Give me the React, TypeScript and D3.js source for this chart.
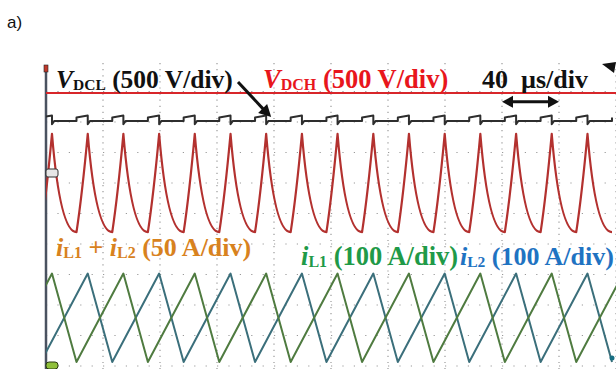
import * as d3 from 'd3'
import React from 'react'

// time base: 40 µs/div, 10 div on screen
const timeGrid = [40, 80, 120, 160, 200, 240, 280, 320, 360, 400]
const divGrid = [0, 1, 2, 3, 4, 5, 6, 7, 8, 9]

// iL1 + iL2 ripple: peak / valley instants (µs)
const sumPeakT = [4.2, 29.3, 54.3, 79.4, 104.4, 129.5, 154.5, 179.6, 204.6, 229.7, 254.7, 279.8, 304.8, 329.9, 354.9, 380.0]
const sumValleyT = [-3.7, 21.4, 46.5, 71.5, 96.6, 121.6, 146.7, 171.7, 196.8, 221.8, 246.9, 271.9, 297.0, 322.0, 347.1, 372.1, 397.2]
const sumLevels = { peak: 7.61, valley: 4.39 } // div

// phase currents (div)
const iL1PeakT = [4.2, 54.3, 104.4, 154.5, 204.6, 254.7, 304.8, 354.9, 405.0]
const iL1ValleyT = [-28.7, 21.4, 71.5, 121.6, 171.7, 221.8, 271.9, 322.0, 372.1]
const iL2PeakT = [29.3, 79.4, 129.5, 179.6, 229.7, 279.8, 329.9, 380.0]
const iL2ValleyT = [-3.7, 46.5, 96.6, 146.7, 196.8, 246.9, 297.0, 347.1, 397.2]
const iLLevels = { peak: 3.03, valley: 0.13 }

// dc-link voltages (div)
const vdchLevel = 8.95
const vdclLevels = { base: 8.03, step: 8.15, top: 8.21, under: 7.93 }

const W = 616
const H = 369

type Pt = { t: number; v: number; kind: 'p' | 'v' }

const merge = (peaks: number[], valleys: number[], lv: { peak: number; valley: number }): Pt[] =>
  [
    ...peaks.map(t => ({ t, v: lv.peak, kind: 'p' as const })),
    ...valleys.map(t => ({ t, v: lv.valley, kind: 'v' as const })),
  ].sort((a, b) => a.t - b.t)

const App = () => {
  const x = d3.scaleLinear().domain([0, 400]).range([46, 616])
  const y = d3.scaleLinear().domain([0, 10]).range([366, 61])
  const line = d3
    .line<[number, number]>()
    .x(d => x(d[0]))
    .y(d => y(d[1]))

  // sum current: curved segments (fast fall, near-linear rise)
  const sumPts = merge(sumPeakT, sumValleyT, sumLevels)
  const sp = d3.path()
  sumPts.forEach((p, i) => {
    if (i === 0) {
      sp.moveTo(x(p.t), y(p.v))
      return
    }
    const a = sumPts[i - 1]
    const dx = x(p.t) - x(a.t)
    const dy = y(p.v) - y(a.v)
    if (a.kind === 'p') {
      sp.quadraticCurveTo(x(a.t) + dx * 0.33, y(a.v) + dy, x(p.t), y(p.v))
    } else {
      sp.quadraticCurveTo(x(a.t) + dx * 0.5, y(a.v) + dy * 0.38, x(p.t), y(p.v))
    }
  })

  const vdclPts: [number, number][] = []
  sumPts.forEach(p => {
    if (p.kind === 'v') {
      vdclPts.push([p.t, vdclLevels.base], [p.t, vdclLevels.step])
    } else {
      vdclPts.push([p.t, vdclLevels.top], [p.t, vdclLevels.under], [p.t + 1.5, vdclLevels.base])
    }
  })

  const tri = (pts: Pt[]) => line(pts.map(p => [p.t, p.v] as [number, number])) ?? ''

  const serif = '"Liberation Serif", "Times New Roman", serif'
  const nb = '\u00A0'
  const arrowTip: [number, number] = [x(158), y(8.16)]
  const scaleY = y(8.66)

  return (
    <svg width={W} height={H} style={{ position: 'absolute', left: 0, top: 0, background: '#fff' }}>
      <defs>
        <clipPath id="scr">
          <rect x={46} y={0} width={570} height={H} />
        </clipPath>
      </defs>
      <text x={7} y={28} fontFamily='"Liberation Sans", Arial, sans-serif' fontSize={17} fill="#111">
        a)
      </text>

      {/* graticule */}
      <g stroke="#9a9a9a" strokeWidth={1.2}>
        {divGrid.map(d => (
          <line key={'h' + d} x1={46} x2={W} y1={y(d)} y2={y(d)} strokeDasharray="1.2 10.2" />
        ))}
        {timeGrid.map(t => (
          <line key={'v' + t} x1={x(t)} x2={x(t)} y1={63} y2={H} strokeDasharray="1.2 4.9" />
        ))}
      </g>
      <line x1={46} x2={46} y1={65} y2={H} stroke="#4a5260" strokeWidth={2.5} />

      <g clipPath="url(#scr)" fill="none" strokeLinejoin="round">
        <path d={line([[0, vdchLevel], [400, vdchLevel]]) ?? ''} stroke="#d8262a" strokeWidth={2} />
        <path d={line(vdclPts) ?? ''} stroke="#2e2e2e" strokeWidth={2} />
        <path d={sp.toString()} stroke="#b3312f" strokeWidth={2.2} />
        <path d={tri(merge(iL2PeakT, iL2ValleyT, iLLevels))} stroke="#3b6f7b" strokeWidth={2} />
        <path d={tri(merge(iL1PeakT, iL1ValleyT, iLLevels))} stroke="#4f7b40" strokeWidth={2} />
      </g>

      {/* channel markers */}
      <rect x={44} y={65} width={4} height={7} fill="#c0392b" stroke="#222" strokeWidth={0.6} />
      <rect x={46} y={169} width={12} height={8} rx={2} fill="#e6e6e6" stroke="#333" strokeWidth={1} />
      <rect x={46} y={362} width={12} height={7} rx={3} fill="#8fbf3a" stroke="#2a3a10" strokeWidth={1} />
      <circle cx={612} cy={358} r={2.5} fill="#176e82" />
      <polygon points="602,64 616,62 614,73" fill="#111" />

      {/* labels */}
      <text x={56} y={88} fontFamily={serif} fontWeight="bold" fontSize={25.5} fill="#111">
        <tspan fontStyle="italic">V</tspan>
        <tspan fontSize={15.5} dy={2}>DCL</tspan>
        <tspan dy={-2}>{nb + '(500 V/div)'}</tspan>
      </text>
      <text x={263} y={88} fontFamily={serif} fontWeight="bold" fontSize={26.5} fill="#e8161c">
        <tspan fontStyle="italic">V</tspan>
        <tspan fontSize={16} dy={2}>DCH</tspan>
        <tspan dy={-2}>{nb + '(500 V/div)'}</tspan>
      </text>
      <text x={482} y={88} fontFamily={serif} fontWeight="bold" fontSize={26} fill="#111">
        {'40' + nb + nb + 'µs/div'}
      </text>

      <line x1={238} y1={82} x2={arrowTip[0] - 6} y2={arrowTip[1] - 6} stroke="#111" strokeWidth={3} />
      <polygon
        points={`${arrowTip[0]},${arrowTip[1]} ${arrowTip[0] - 13},${arrowTip[1] - 4} ${arrowTip[0] - 4},${arrowTip[1] - 13}`}
        fill="#111"
      />

      <line x1={x(320) + 8} x2={x(360) - 8} y1={scaleY} y2={scaleY} stroke="#111" strokeWidth={3} />
      <polygon points={`${x(320)},${scaleY} ${x(320) + 11},${scaleY - 6} ${x(320) + 11},${scaleY + 6}`} fill="#111" />
      <polygon points={`${x(360)},${scaleY} ${x(360) - 11},${scaleY - 6} ${x(360) - 11},${scaleY + 6}`} fill="#111" />

      <text x={56} y={256} fontFamily={serif} fontWeight="bold" fontSize={26} fill="#d8821e">
        <tspan fontStyle="italic">i</tspan>
        <tspan fontSize={16} dy={2}>L1</tspan>
        <tspan dy={-2}>{nb + '+' + nb}</tspan>
        <tspan fontStyle="italic">i</tspan>
        <tspan fontSize={16} dy={2}>L2</tspan>
        <tspan dy={-2}>{nb + '(50 A/div)'}</tspan>
      </text>
      <text x={301} y={265} fontFamily={serif} fontWeight="bold" fontSize={26.5} fill="#1f9a48">
        <tspan fontStyle="italic">i</tspan>
        <tspan fontSize={16} dy={2}>L1</tspan>
        <tspan dy={-2}>{nb + '(100 A/div)'}</tspan>
      </text>
      <text x={460} y={265} fontFamily={serif} fontWeight="bold" fontSize={26} fill="#1f73c2">
        <tspan fontStyle="italic">i</tspan>
        <tspan fontSize={15.5} dy={2}>L2</tspan>
        <tspan dy={-2}>{nb + '(100 A/div)'}</tspan>
      </text>
    </svg>
  )
}

export default App
